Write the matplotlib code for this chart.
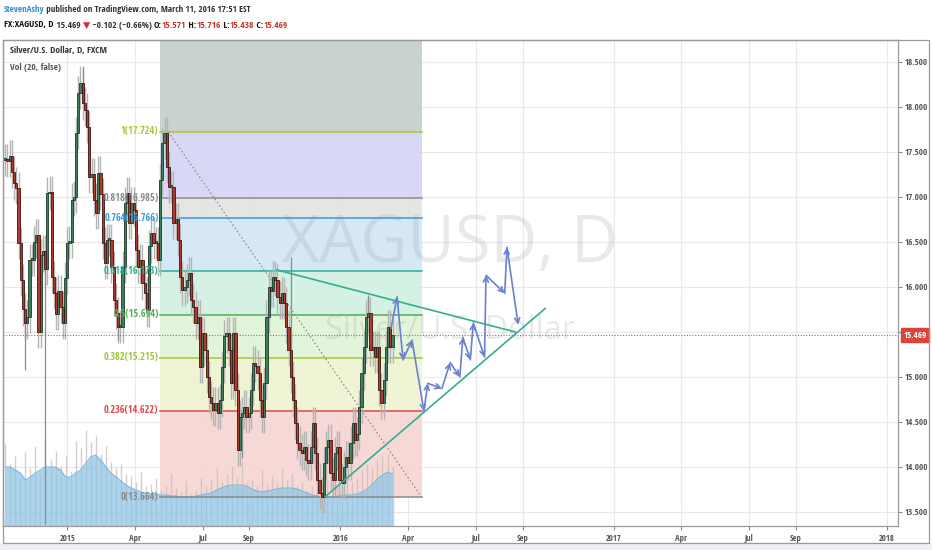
import matplotlib
matplotlib.use('Agg')
import matplotlib.pyplot as plt
import matplotlib.dates as mdates
import matplotlib.transforms as mtransforms
import matplotlib.font_manager as fm
from matplotlib.patches import Rectangle
import numpy as np
import pandas as pd

# ---- data ----
# daily closes, sampled about every 3 calendar days
closes = [17.41, 17.40, 17.45, 17.28, 17.15, 17.10, 16.49, 16.08, 15.75, 15.60, 15.67, 16.30, 16.30,
          16.50, 16.58, 15.50, 16.35, 16.40, 16.20, 17.04, 17.05, 16.11, 15.93, 15.70, 15.95, 15.78,
          15.60, 16.10, 16.49, 16.50, 16.97, 17.00, 17.71, 18.16, 18.27, 18.04, 17.97, 17.78, 17.22,
          17.25, 16.97, 16.82, 17.27, 17.03,
          16.49, 16.27, 16.52, 16.52, 16.22, 15.86, 15.71, 15.56, 15.56, 16.22, 16.93, 17.04, 16.71,
          16.93, 16.86, 16.41, 16.22, 16.30, 16.04, 15.93, 15.74, 16.45, 16.60, 16.49, 16.49, 16.30,
          17.19, 17.60, 17.71, 17.33, 17.11, 17.11, 16.71, 16.75, 16.52, 16.11, 15.97, 16.00, 16.08,
          16.15, 15.86, 15.78, 15.60, 15.67, 15.11, 15.49, 15.30, 15.00, 14.78, 14.71, 14.63, 14.71,
          14.60, 14.74, 15.11, 15.45, 15.49, 15.30, 14.93, 15.49, 14.86, 14.19, 14.56, 14.60, 14.67,
          14.56, 14.60, 14.86, 15.16, 15.12, 15.04, 14.74, 14.56, 14.93, 15.67, 16.00, 15.96, 16.11,
          16.08, 15.89, 15.82, 15.93, 15.82, 15.56, 15.30, 15.00, 14.74, 14.49, 14.27, 14.19, 14.15,
          14.22, 14.08, 14.04, 14.22, 14.49, 14.15, 13.86, 13.71, 13.67, 14.04, 14.22, 14.30, 13.93,
          13.86, 14.15, 14.22, 13.86, 13.82, 14.00, 14.11, 14.04, 14.27, 14.49, 14.30, 14.37, 14.67,
          15.04, 15.33, 15.67, 15.71, 15.30, 15.33, 15.22, 15.33, 14.86, 14.71, 14.97, 15.33, 15.56,
          15.33, 15.469]
first_day, last_day = '2014-10-10', '2016-03-11'

# long wicks that stand out
spike_dates = ['2014-11-07', '2014-12-01', '2015-01-21', '2015-03-11', '2015-08-24', '2015-10-27', '2016-02-07']
spike_prices = [15.08, 13.37, 18.44, 15.41, 14.10, 16.33, 15.91]

# volume (bars and 20-period average), same units for both
vol_ma = [59, 59, 56, 53, 46, 49, 53, 56, 59, 59, 59, 56, 49, 49, 53, 56, 63, 69, 71, 66, 59, 53, 49, 45,
          41, 38, 36, 34, 33, 32, 32, 31, 31, 30, 30, 29, 29, 29, 30, 31, 32, 33, 36, 38, 40, 41, 41, 41,
          40, 37, 35, 34, 35, 36, 37, 38, 38, 38, 37, 35, 33, 31, 30, 29, 29, 29, 30, 31, 31, 31, 32, 34,
          37, 42, 47, 51, 54, 52]
vol_bars = [83, 62, 70, 48, 74, 58, 80, 52, 88, 66, 75, 60, 70, 55, 85, 78, 96, 84, 90, 72, 80, 64, 58, 62,
            52, 50, 44, 54, 40, 42, 48, 36, 40, 52, 38, 34, 45, 32, 36, 48, 40, 46, 58, 44, 52, 60, 48, 66,
            44, 46, 40, 56, 42, 50, 44, 58, 46, 52, 40, 44, 36, 40, 34, 42, 46, 36, 40, 38, 52, 44, 48, 56,
            62, 58, 66, 70, 72, 60]

# fibonacci retracement
fib_ratios = [1, 0.818, 0.764, 0.618, 0.5, 0.382, 0.236, 0]
fib_hi, fib_lo = 17.724, 13.664
fib_start, fib_end = '2015-05-16', '2016-04-19'
fib_box_left = '2015-05-05'

# triangle lines
upper_line = (['2015-10-08', '2016-08-22'], [16.19, 15.50])
lower_line = (['2015-12-12', '2016-10-01'], [13.67, 15.76])

# projected zig-zag path (blue arrows)
path_dates = ['2016-03-09', '2016-03-17', '2016-03-25', '2016-04-06', '2016-04-22', '2016-04-27',
              '2016-05-16', '2016-05-27', '2016-06-09', '2016-06-13', '2016-06-23', '2016-06-27',
              '2016-07-12', '2016-07-14', '2016-08-08', '2016-08-11', '2016-08-26']
path_prices = [15.54, 15.89, 15.19, 15.41, 14.62, 14.93, 14.87, 15.16, 15.00, 15.44, 15.19, 15.60,
               15.22, 16.13, 15.93, 16.44, 15.58]

last_price = 15.469
price_ticks = [13.5, 14.0, 14.5, 15.0, 15.5, 16.0, 16.5, 17.0, 17.5, 18.0, 18.5]
price_labels = ['13.500', '14.000', '14.500', '15.000', '', '16.000', '16.500', '17.000', '17.500',
                '18.000', '18.500']
date_ticks = ['2015-01-01', '2015-04-01', '2015-07-01', '2015-09-01', '2016-01-01', '2016-04-01',
              '2016-07-01', '2016-09-01', '2017-01-01', '2017-04-01', '2017-07-01', '2017-09-01',
              '2018-01-01']
date_labels = ['2015', 'Apr', 'Jul', 'Sep', '2016', 'Apr', 'Jul', 'Sep', '2017', 'Apr', 'Jul', 'Sep', '2018']

W, H = 932, 550
fig = plt.figure(figsize=(W / 100, H / 100), dpi=100)
fig.patch.set_facecolor('white')
renderer = fig.canvas.get_renderer()

# ---- fonts: the chart uses a condensed face, take the narrowest one installed ----
names = {f.name for f in fm.fontManager.ttflist}
cands = ['Liberation Sans Narrow', 'Roboto Condensed', 'Open Sans Condensed', 'Noto Sans CJK SC',
         'Lato', 'Roboto', 'Liberation Sans']
avail = [c for c in cands if c in names] or ['DejaVu Sans']


def width_px(s, fam, size=10, weight='normal'):
    t = fig.text(0, 0, s, fontsize=size, family=[fam, 'DejaVu Sans'], fontweight=weight)
    w = t.get_window_extent(renderer=renderer).width
    t.remove()
    return w


probe = 'published on TradingView.com 15.469'
FONT = min(avail, key=lambda f: width_px(probe, f))
WMARK = 'Open Sans' if 'Open Sans' in names else FONT
plt.rcParams['font.family'] = [FONT, 'DejaVu Sans']


def fit(s, target, weight='normal', cap=8.5, fam=None):
    return min(cap, 10 * target / width_px(s, fam or FONT, 10, weight))


def fx(px):
    return px / W


def fy(py):
    return 1 - py / H


# bottom strip and outer frame
fig.add_artist(Rectangle((0, 0), 1, fy(543), transform=fig.transFigure, color='#eef0f3', zorder=0))
fig.add_artist(Rectangle((fx(3), fy(543)), fx(926), 503 / H, transform=fig.transFigure,
                         fill=False, ec='#9a9a9a', lw=0.9, zorder=5))

ax = fig.add_axes([fx(3), fy(526), fx(895), 486 / H])
ax.set_xlim(pd.Timestamp('2014-10-07'), pd.Timestamp('2018-01-16'))
ax.set_ylim(13.344, 18.744)

# grid
ax.set_yticks(price_ticks)
ax.set_xticks(pd.to_datetime(date_ticks))
ax.grid(True, color='#e9e9e9', lw=0.8, zorder=0)
ax.set_axisbelow(True)

# fib boxes
fib_fs = fit('0.382(15.215)', 55)
xf0, xf1 = pd.Timestamp(fib_box_left), pd.Timestamp(fib_end)
levels = [fib_lo + r * (fib_hi - fib_lo) for r in fib_ratios]
fills = ['#c4cec7', '#d4d4f5', '#e3e3e3', '#d2e6f5', '#d0f0e2', '#dff3d6', '#eef3d1', '#f6d4d2']
lcols = ['#a3c93a', '#8e8e8e', '#3a9bd6', '#27b38a', '#4cb050', '#a2c639', '#d94a4a', '#8a8a8a']
tops = [ax.get_ylim()[1]] + levels[:-1]
bots = [levels[0]] + levels[1:]
for top, bot, c in zip(tops, bots, fills):
    ax.fill_between([xf0, xf1], bot, top, color=c, alpha=0.9, lw=0, zorder=1)
for r, lv, c in zip(fib_ratios, levels, lcols):
    ax.plot([xf0, xf1], [lv, lv], color=c, lw=1.1, zorder=3)
    ax.text(xf0 - pd.Timedelta(days=2), lv, '%g(%.3f)' % (r, lv), color=c, fontsize=fib_fs,
            ha='right', va='center', zorder=6)
ax.plot(pd.to_datetime([fib_start, fib_end]), [fib_hi, fib_lo], color='#888888', lw=0.8,
        ls=(0, (1.5, 2)), zorder=3)

# watermark
ax.text(0.4995, 0.578, 'XAGUSD, D', transform=ax.transAxes, family=[WMARK, 'DejaVu Sans'],
        fontsize=fit('XAGUSD, D', 336, cap=80, fam=WMARK),
        color='#8e959c', alpha=0.2, ha='center', va='center', zorder=2)
ax.text(0.4995, 0.402, 'Silver/U.S. Dollar', transform=ax.transAxes, family=[WMARK, 'DejaVu Sans'],
        fontsize=fit('Silver/U.S. Dollar', 250, cap=40, fam=WMARK),
        color='#8e959c', alpha=0.2, ha='center', va='center', zorder=2)

# volume
vol_tr = mtransforms.blended_transform_factory(
    ax.transData, mtransforms.Affine2D().scale(1, 1 / 486) + ax.transAxes)
vd = pd.date_range(first_day, last_day, periods=len(vol_ma))
vb = pd.date_range(first_day, last_day, periods=len(vol_bars))
ax.vlines(vb, 0, vol_bars, color='#cdbdb7', lw=1, alpha=0.75, transform=vol_tr, zorder=2)
ax.fill_between(vd, 0, vol_ma, color='#8fc6e6', alpha=0.75, lw=0, transform=vol_tr, zorder=2)
ax.plot(vd, vol_ma, color='#7bb8dc', lw=0.8, transform=vol_tr, zorder=2)

# candles
dates = pd.date_range(first_day, last_day, periods=len(closes))
c = np.array(closes)
o = np.r_[c[0], c[:-1]]
step = (dates[1] - dates[0]).total_seconds() / 86400
up = c >= o
wick = 0.18
ax.vlines(dates, np.minimum(o, c) - wick, np.maximum(o, c) + wick, color='#b4b4b4', lw=1.0, zorder=3)
sd = pd.to_datetime(spike_dates)
for d, p in zip(sd, spike_prices):
    i = np.argmin(np.abs((dates - d).total_seconds()))
    ax.vlines(dates[i], min(p, c[i]), max(p, c[i]), color='#8c8c8c', lw=0.9, zorder=3)
body_h = np.maximum(np.abs(c - o), 0.02)
ax.bar(dates[up], body_h[up], bottom=np.minimum(o, c)[up], width=step,
       color='#3c7f58', edgecolor='#1e3a2a', lw=0.6, zorder=4)
ax.bar(dates[~up], body_h[~up], bottom=np.minimum(o, c)[~up], width=step,
       color='#b3392c', edgecolor='#3e1410', lw=0.6, zorder=4)

# last price line
ax.axhline(last_price, color='#e0523f', lw=0.8, ls=(0, (1, 1.5)), zorder=3)

# triangle
tcol = '#35ad93'
ax.plot(pd.to_datetime(upper_line[0]), upper_line[1], color=tcol, lw=1.2, zorder=5)
ax.plot(pd.to_datetime(lower_line[0]), lower_line[1], color=tcol, lw=1.2, zorder=5)

# arrows
pdt = pd.to_datetime(path_dates)
for i in range(len(pdt) - 1):
    ax.annotate('', xy=(mdates.date2num(pdt[i + 1]), path_prices[i + 1]),
                xytext=(mdates.date2num(pdt[i]), path_prices[i]),
                arrowprops=dict(arrowstyle='->', color='#6c80d0', lw=1.2, shrinkA=0, shrinkB=0,
                                mutation_scale=9), zorder=6)

# axes styling
axis_fs = fit('18.500', 23)
ax.yaxis.tick_right()
ax.set_yticklabels(price_labels)
ax.set_xticklabels(date_labels)
ax.tick_params(axis='y', length=3, color='#888888', labelcolor='#555555', labelsize=axis_fs, pad=1.5)
ax.tick_params(axis='x', length=3, color='#888888', labelcolor='#555555', labelsize=fit('2015', 16),
               pad=3)
for s in ax.spines.values():
    s.set_color('#9a9a9a')
    s.set_linewidth(0.9)

# price label box
fig.text(fx(915), fy(335), '%.3f' % last_price, color='white', fontsize=axis_fs, ha='center',
         va='center', bbox=dict(boxstyle='square,pad=0.3', fc='#d9453a', ec='#d9453a'))

# legend texts inside the chart
leg_fs = fit('Silver/U.S. Dollar, D, FXCM', 97)
fig.text(fx(10), fy(50), 'Silver/U.S. Dollar, D, FXCM', color='#333333', fontsize=leg_fs, va='center')
fig.text(fx(10), fy(67), 'Vol (20, false)', color='#555555', fontsize=leg_fs, va='center')


# header
def text_run(x_px, y_px, parts, size):
    x = x_px
    for s, col, wt in parts:
        t = fig.text(fx(x), fy(y_px), s, color=col, fontsize=size, fontweight=wt, va='center', ha='left')
        x += t.get_window_extent(renderer=renderer).width


def run_width(parts, size=10):
    return sum(width_px(s, FONT, size, wt) for s, col, wt in parts)


line1 = [('StevenAshy', '#2a8fd4', 'normal'),
         (' published on TradingView.com, March 11, 2016 17:51 EST', '#333333', 'normal')]
red = '#c0392b'
line2 = [('FX:XAGUSD, D', '#111111', 'bold'), (' 15.469 ', '#333333', 'normal'),
         ('\u25bc', '#d0312d', 'normal'), (' \u22120.102 (\u22120.66%) ', '#333333', 'normal'),
         ('O:', '#111111', 'bold'), ('15.571', red, 'normal'),
         (' H:', '#111111', 'bold'), ('15.716', red, 'normal'),
         (' L:', '#111111', 'bold'), ('15.438', red, 'normal'),
         (' C:', '#111111', 'bold'), ('15.469', red, 'normal')]
text_run(4, 10, line1, min(8.5, 10 * 244 / run_width(line1)))
text_run(4, 25, line2, min(8.5, 10 * 284 / run_width(line2)))

fig.savefig('out.png', dpi=100)
